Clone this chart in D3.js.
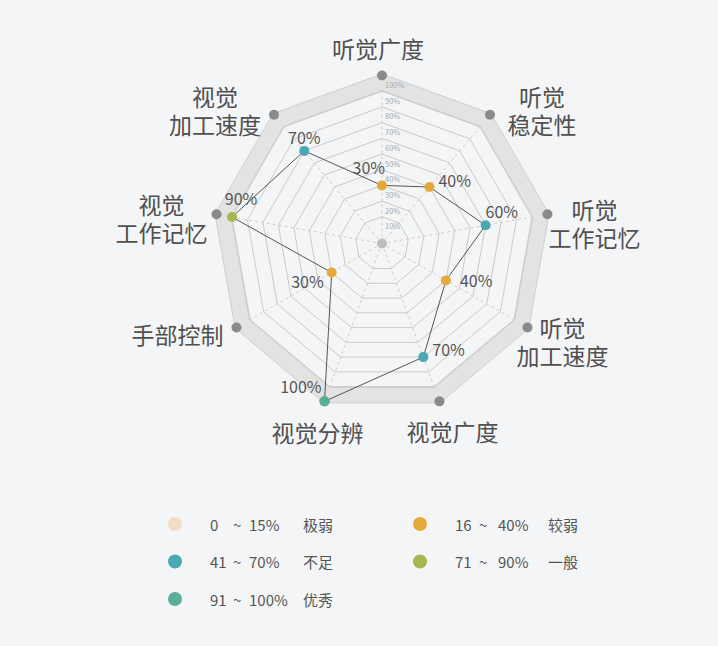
<!DOCTYPE html>
<html>
<head>
<meta charset="utf-8">
<script src="https://cdn.jsdelivr.net/npm/d3@7/dist/d3.min.js"></script>
<style>
html,body{margin:0;padding:0;background:#f4f5f7;}
svg{display:block;font-family:"Noto Sans CJK SC","Noto Sans",sans-serif;}
</style>
</head>
<body>
<svg id="chart" width="718" height="646"></svg>
<script>
// ---- data ----
const axisNames = ['听觉广度','听觉稳定性','听觉工作记忆','听觉加工速度','视觉广度','视觉分辨','手部控制','视觉工作记忆','视觉加工速度'];
const axisLabelLines = [['听觉广度'],['听觉','稳定性'],['听觉','工作记忆'],['听觉','加工速度'],['视觉广度'],['视觉分辨'],['手部控制'],['视觉','工作记忆'],['视觉','加工速度']];
const scores = [30, 40, 60, 40, 70, 100, 30, 90, 70];
const tickValues = [10,20,30,40,50,60,70,80,90,100];
const levelNames = ['极弱','较弱','不足','一般','优秀'];
const levelLow = [0, 16, 41, 71, 91];
const levelHigh = [15, 40, 70, 90, 100];
const levelColors = ['#f2dcc5','#e5a93a','#4aa8b2','#a4b84d','#5aae9a'];

// ---- layout (not data) ----
const cx = 382, cy = 243.5;
const axisLabelNudge = [[-4,-28],[52,-5],[47,9],[35,13],[13,30],[-7,31],[-59,6],[-55,4],[-59,-5]];
const valueLabelPos = [
  {dx:3,dy:-18,a:'end'},{dx:9,dy:-7,a:'start'},{dx:0,dy:-14,a:'start'},
  {dx:14,dy:0,a:'start'},{dx:9,dy:-8,a:'start'},{dx:-3,dy:-15,a:'end'},
  {dx:-8,dy:8,a:'end'},{dx:9,dy:-19,a:'middle'},{dx:0,dy:-14,a:'middle'}];

const svg = d3.select('#chart');
const r = d3.scaleLinear().domain([-7, 100]).range([0, 168]);
const n = axisNames.length;
const ang = d3.scaleLinear().domain([0, n]).range([0, 2*Math.PI]);
const pt = (i, v) => [cx + r(v)*Math.sin(ang(i)), cy - r(v)*Math.cos(ang(i))];
const ringPath = v => d3.line()(d3.range(n).map(i => pt(i, v))) + 'Z';

const g = svg.append('g');

// band between 90% and 100%
const bandOuter = d3.range(n).map(i => pt(i, 101));
const bandInner = d3.range(n).map(i => pt(i, 90.5));
g.append('path')
  .attr('d', d3.line()(bandOuter) + 'Z' + d3.line()(bandInner.slice().reverse()) + 'Z')
  .attr('fill', '#e3e3e3').attr('fill-rule','evenodd')
  .attr('stroke', '#cfcfcf').attr('stroke-width', 1);

// rings
g.selectAll('path.ring').data(tickValues.filter(t => t < 100)).join('path')
  .attr('class','ring').attr('d', d => ringPath(d))
  .attr('fill','none').attr('stroke','#cacaca').attr('stroke-width',1);

// spokes
g.selectAll('line.spoke').data(d3.range(n)).join('line')
  .attr('class','spoke')
  .attr('x1', cx).attr('y1', cy)
  .attr('x2', i => pt(i, 90)[0]).attr('y2', i => pt(i, 90)[1])
  .attr('stroke','#cdcdcd').attr('stroke-dasharray','3,3').attr('stroke-width',1);

// tick labels
g.selectAll('text.tick').data(tickValues).join('text')
  .attr('class','tick')
  .attr('x', cx + 3).attr('y', d => cy - r(d) + 9)
  .attr('dominant-baseline','central')
  .attr('font-size', 7.5).attr('fill','#a8a8a8')
  .text(d => d + '%');

// axis end dots
g.selectAll('circle.end').data(d3.range(n)).join('circle')
  .attr('class','end')
  .attr('cx', i => pt(i, 100)[0]).attr('cy', i => pt(i, 100)[1])
  .attr('r', 5).attr('fill','#8a8a8a');

// center dot
g.append('circle').attr('cx', cx).attr('cy', cy).attr('r', 5).attr('fill','#bdbdbd');

// axis labels (one text per axis, lines as tspans)
axisLabelLines.forEach((lines, i) => {
  const p = pt(i, 100);
  const bx = p[0] + axisLabelNudge[i][0], by = p[1] + axisLabelNudge[i][1];
  const lh = 28;
  const t = g.append('text')
    .attr('text-anchor','middle')
    .attr('font-size', 23).attr('fill','#505050');
  lines.forEach((s, k) => {
    t.append('tspan')
      .attr('x', bx).attr('y', by + (k - (lines.length-1)/2) * lh)
      .attr('dominant-baseline','central')
      .text(s);
  });
});

// data polygon
const dataPts = scores.map((v, i) => pt(i, v));
g.append('path').attr('d', d3.line()(dataPts) + 'Z')
  .attr('fill','none').attr('stroke','#555').attr('stroke-width',1);

const levelOf = v => levelLow.findIndex((lo, k) => v >= lo && v <= levelHigh[k]);

g.selectAll('circle.pt').data(scores).join('circle')
  .attr('class','pt')
  .attr('cx', (d,i) => dataPts[i][0]).attr('cy', (d,i) => dataPts[i][1])
  .attr('r', 5).attr('fill', d => levelColors[levelOf(d)]);

g.selectAll('text.val').data(scores).join('text')
  .attr('class','val')
  .attr('x', (d,i) => dataPts[i][0] + valueLabelPos[i].dx)
  .attr('y', (d,i) => dataPts[i][1] + valueLabelPos[i].dy)
  .attr('text-anchor', (d,i) => valueLabelPos[i].a)
  .attr('dominant-baseline','central')
  .attr('font-size', 16).attr('fill','#555')
  .text(d => d + '%');

// legend
const legendCol = d3.scalePoint().domain([0,1]).range([175, 420]);
const legendRow = d3.scalePoint().domain([0,1,2]).range([524, 599]);
const lg = svg.append('g');
levelNames.forEach((name, k) => {
  const x = legendCol(k % 2), y = legendRow(Math.floor(k / 2));
  lg.append('circle').attr('cx', x).attr('cy', y).attr('r', 7).attr('fill', levelColors[k]);
  const tx = (dx, t) => lg.append('text').attr('x', x + dx).attr('y', y)
    .attr('dominant-baseline','central').attr('font-size', 15).attr('fill','#555').text(t);
  tx(35, String(levelLow[k]));
  tx(k % 2 ? 59 : 58, '~');
  tx(k % 2 ? 78 : 74, levelHigh[k] + '%');
  tx(128, name);
});
</script>
</body>
</html>
